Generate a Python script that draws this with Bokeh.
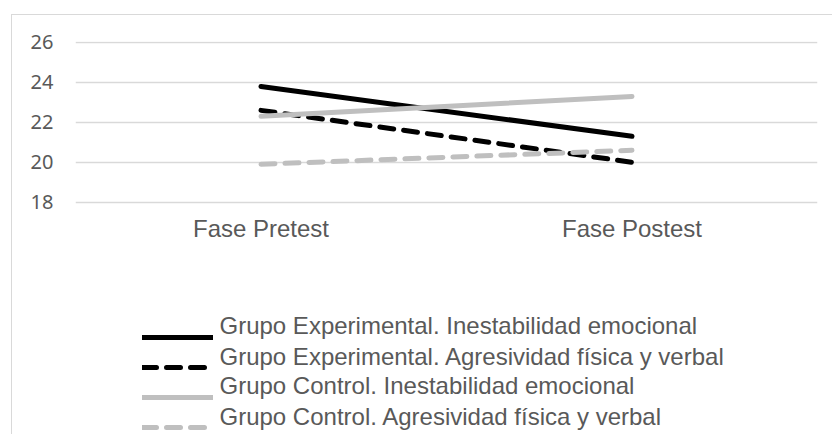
from bokeh.plotting import figure
from bokeh.models import (FactorRange, Range1d, Legend, LegendItem, Label,
                          FixedTicker, ColumnDataSource)
from bokeh.embed import file_html
from bokeh.resources import INLINE

categories = ["Fase Pretest", "Fase Postest"]
exp_inest = [23.8, 21.3]
exp_agres = [22.6, 20.0]
ctrl_inest = [22.3, 23.3]
ctrl_agres = [19.9, 20.6]
y_ticks = [18, 20, 22, 24, 26]
labels = [
    "Grupo Experimental. Inestabilidad emocional",
    "Grupo Experimental. Agresividad física y verbal",
    "Grupo Control. Inestabilidad emocional",
    "Grupo Control. Agresividad física y verbal",
]

TEXT = "#595959"
GRID = "#D9D9D9"
GRAY = "#BFBFBF"

W, H = 821, 420
p = figure(width=W, height=H, output_backend="svg", toolbar_location=None,
           x_range=FactorRange(*categories, range_padding=0),
           y_range=Range1d(6.31, 26.05),
           min_border_left=63, min_border_right=16, min_border_top=26, min_border_bottom=0)
p.styles = {"margin-left": "11px", "margin-top": "14px",
            "border-left": "1px solid #D9D9D9", "border-top": "1px solid #D9D9D9"}
p.outline_line_color = None
p.background_fill_color = "white"
p.border_fill_color = "white"

p.xgrid.grid_line_color = None
p.ygrid.grid_line_color = GRID
p.ygrid.grid_line_width = 1.3

p.yaxis.ticker = FixedTicker(ticks=y_ticks)
for ax in (p.xaxis[0], p.yaxis[0]):
    ax.axis_line_color = None
    ax.major_tick_line_color = None
    ax.minor_tick_line_color = None
    ax.major_tick_in = 0
    ax.major_tick_out = 0
    ax.major_label_text_color = TEXT
p.yaxis.major_label_text_font = "Noto Sans"
p.yaxis.major_label_text_font_size = "20px"
p.yaxis.major_label_standoff = 22
p.xaxis.fixed_location = 18
p.xaxis.major_label_text_font = "Liberation Sans"
p.xaxis.major_label_text_font_size = "24px"
p.xaxis.major_label_standoff = 13

series = [
    (exp_inest, "black", "solid"),
    (exp_agres, "black", "14 10"),
    (ctrl_inest, GRAY, "solid"),
    (ctrl_agres, GRAY, "14 10"),
]
items = []
for vals, color, dash in series:
    src = ColumnDataSource(dict(x=categories, y=vals))
    r = p.line("x", "y", source=src, line_color=color, line_width=5,
               line_dash=dash, line_cap="round", line_join="round")
    items.append(LegendItem(label=" ", renderers=[r]))

# legend glyph samples
legend = Legend(items=items, location=(67, -7), orientation="vertical",
                border_line_color=None, background_fill_alpha=0,
                padding=0, margin=0, spacing=0,
                glyph_width=71, glyph_height=30, label_height=30,
                label_standoff=6, label_text_font_size="10px")
p.add_layout(legend)

# legend texts, sitting slightly above each sample line as in the original
centers = [110.5, 79.5, 50, 19.5]
for lab, yc in zip(labels, centers):
    p.add_layout(Label(x=144, y=yc, x_units="screen", y_units="screen", text=lab,
                       text_font="Liberation Sans", text_font_size="24px",
                       text_color=TEXT, text_baseline="middle", text_align="left"))

open("out.html", "w").write(file_html(p, INLINE))
